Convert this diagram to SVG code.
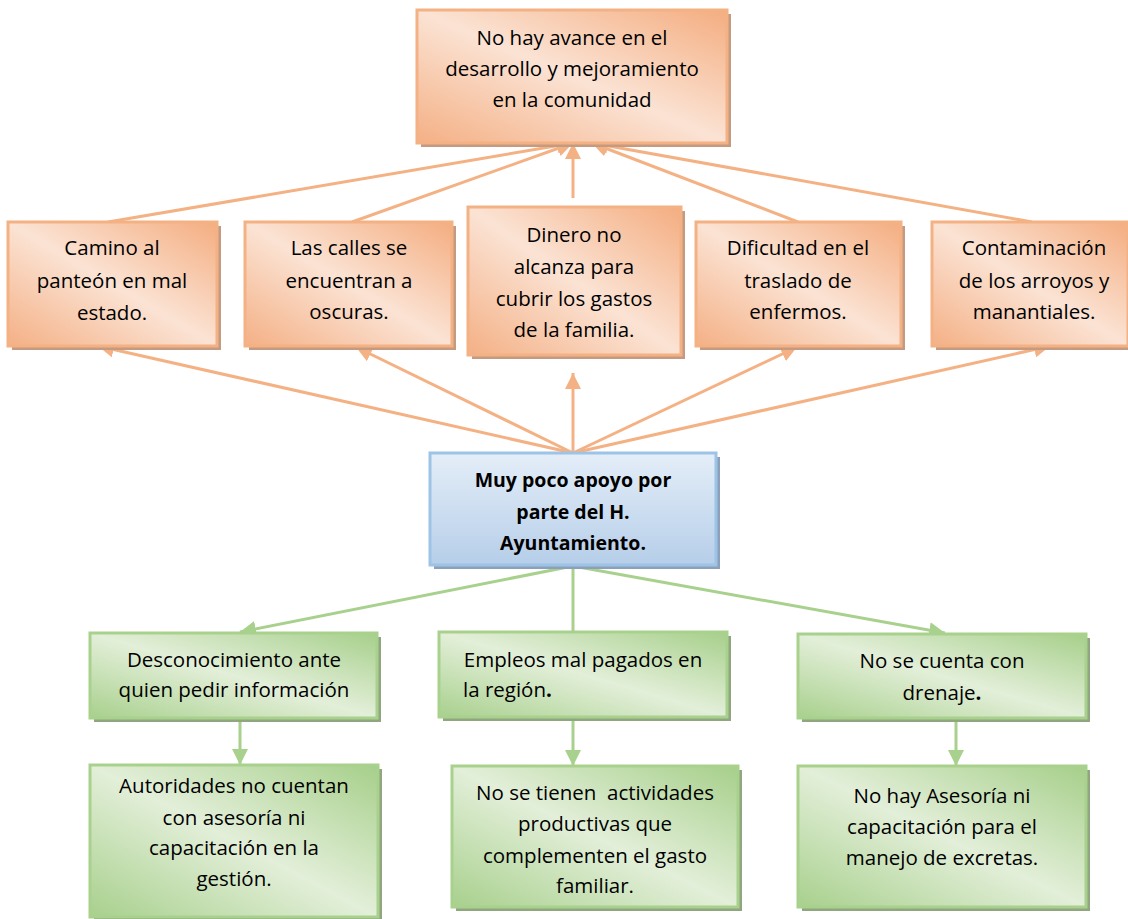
<svg xmlns="http://www.w3.org/2000/svg" width="1128" height="919" viewBox="0 0 1128 919">
<style>
.t{font-family:"Open Sans",Lato,"Liberation Sans",sans-serif;font-size:20.5px;fill:#000;text-anchor:middle}
.b{font-weight:bold}
.cb{font-size:19.5px}
.oc{stroke:#f4b183;stroke-width:3;fill:none}
.gc{stroke:#a9d18e;stroke-width:3;fill:none}
.os{fill:#c49a80}
.gs{fill:#8fa67f}
.bs{fill:#8da0bb}
.ob{fill:url(#og);stroke:#f4b183;stroke-width:3}
.gb{fill:url(#gg);stroke:#a9d18e;stroke-width:3}
.bb{fill:url(#bg);stroke:#9dc3e6;stroke-width:3}
</style>
<defs>
<linearGradient id="og" x1="1" y1="0" x2="0" y2="1">
<stop offset="0" stop-color="#f4ad80"/>
<stop offset="0.5" stop-color="#fbe3d4"/>
<stop offset="1" stop-color="#f4b085"/>
</linearGradient>
<linearGradient id="gg" x1="1" y1="0" x2="0" y2="1">
<stop offset="0" stop-color="#a6cf8a"/>
<stop offset="0.5" stop-color="#e3efd9"/>
<stop offset="1" stop-color="#a8d08d"/>
</linearGradient>
<linearGradient id="bg" x1="0" y1="0" x2="0" y2="1">
<stop offset="0" stop-color="#e4eef8"/>
<stop offset="1" stop-color="#b6cee9"/>
</linearGradient>
<marker id="ao" viewBox="0 0 10 10" refX="10" refY="5" markerWidth="16" markerHeight="16" markerUnits="userSpaceOnUse" orient="auto">
<path d="M0,0 L10,5 L0,10 z" fill="#f4b183"/>
</marker>
<marker id="ag" viewBox="0 0 10 10" refX="10" refY="5" markerWidth="16" markerHeight="16" markerUnits="userSpaceOnUse" orient="auto">
<path d="M0,0 L10,5 L0,10 z" fill="#a9d18e"/>
</marker>
</defs>

<g id="connectors">
<line class="oc" x1="108" y1="222" x2="573" y2="143" marker-end="url(#ao)"/>
<line class="oc" x1="352" y1="222" x2="573" y2="143" marker-end="url(#ao)"/>
<line class="oc" x1="573" y1="198" x2="573" y2="143" marker-end="url(#ao)"/>
<line class="oc" x1="798" y1="222" x2="592" y2="143" marker-end="url(#ao)"/>
<line class="oc" x1="1032" y1="222" x2="592" y2="143" marker-end="url(#ao)"/>
<line class="oc" x1="573" y1="453" x2="98" y2="346" marker-end="url(#ao)"/>
<line class="oc" x1="573" y1="453" x2="356" y2="347" marker-end="url(#ao)"/>
<line class="oc" x1="573" y1="453" x2="573" y2="373" marker-end="url(#ao)"/>
<line class="oc" x1="573" y1="453" x2="797" y2="347" marker-end="url(#ao)"/>
<line class="oc" x1="573" y1="453" x2="1050" y2="346" marker-end="url(#ao)"/>
<line class="gc" x1="573" y1="566" x2="240" y2="632" marker-end="url(#ag)"/>
<line class="gc" x1="573" y1="566" x2="573" y2="649" marker-end="url(#ag)"/>
<line class="gc" x1="573" y1="566" x2="945" y2="633" marker-end="url(#ag)"/>
<line class="gc" x1="240" y1="718" x2="240" y2="765" marker-end="url(#ag)"/>
<line class="gc" x1="573" y1="718" x2="573" y2="766" marker-end="url(#ag)"/>
<line class="gc" x1="956" y1="718" x2="956" y2="766" marker-end="url(#ag)"/>
</g>

<g id="top">
<rect class="os" x="421" y="14" width="310" height="133"/>
<rect class="ob" x="417" y="10" width="310" height="133"/>
<text class="t" x="572" y="45">No hay avance en el</text>
<text class="t" x="572" y="76">desarrollo y mejoramiento</text>
<text class="t" x="572" y="107">en la comunidad</text>
</g>

<g id="camino">
<rect class="os" x="12" y="226" width="209" height="124"/>
<rect class="ob" x="8" y="222" width="209" height="124"/>
<text class="t" x="112" y="255">Camino al</text>
<text class="t" x="112" y="288">panteón en mal</text>
<text class="t" x="112" y="320">estado.</text>
</g>

<g id="calles">
<rect class="os" x="249" y="226" width="207" height="124"/>
<rect class="ob" x="245" y="222" width="207" height="124"/>
<text class="t" x="349" y="255">Las calles se</text>
<text class="t" x="349" y="288">encuentran a</text>
<text class="t" x="349" y="319">oscuras.</text>
</g>

<g id="dinero">
<rect class="os" x="472" y="211" width="213" height="148"/>
<rect class="ob" x="468" y="207" width="213" height="148"/>
<text class="t" x="574" y="242">Dinero no</text>
<text class="t" x="574" y="274">alcanza para</text>
<text class="t" x="574" y="306">cubrir los gastos</text>
<text class="t" x="574" y="337">de la familia.</text>
</g>

<g id="dificultad">
<rect class="os" x="700" y="226" width="205" height="124"/>
<rect class="ob" x="696" y="222" width="205" height="124"/>
<text class="t" x="798" y="255">Dificultad en el</text>
<text class="t" x="798" y="288">traslado de</text>
<text class="t" x="798" y="319">enfermos.</text>
</g>

<g id="contaminacion">
<rect class="os" x="936" y="226" width="196" height="124"/>
<rect class="ob" x="932" y="222" width="196" height="124"/>
<text class="t" x="1034" y="255">Contaminación</text>
<text class="t" x="1034" y="288">de los arroyos y</text>
<text class="t" x="1034" y="319">manantiales.</text>
</g>

<g id="center">
<rect class="bs" x="434" y="457" width="286" height="112"/>
<rect class="bb" x="430" y="453" width="286" height="112"/>
<text class="t b cb" x="573" y="487">Muy poco apoyo por</text>
<text class="t b cb" x="573" y="519">parte del H.</text>
<text class="t b cb" x="573" y="550">Ayuntamiento.</text>
</g>

<g id="desconocimiento">
<rect class="gs" x="94" y="637" width="287" height="85"/>
<rect class="gb" x="90" y="633" width="287" height="85"/>
<text class="t" x="234" y="667">Desconocimiento ante</text>
<text class="t" x="234" y="697">quien pedir información</text>
</g>

<g id="empleos">
<rect class="gs" x="443" y="636" width="288" height="85"/>
<rect class="gb" x="439" y="632" width="288" height="85"/>
<text class="t" x="583" y="667">Empleos mal pagados en</text>
<text class="t" x="463" y="697" style="text-anchor:start">la región<tspan class="b">.</tspan></text>
</g>

<g id="drenaje">
<rect class="gs" x="802" y="638" width="288" height="84"/>
<rect class="gb" x="798" y="634" width="288" height="84"/>
<text class="t" x="942" y="668">No se cuenta con</text>
<text class="t" x="942" y="700">drenaje<tspan class="b">.</tspan></text>
</g>

<g id="autoridades">
<rect class="gs" x="94" y="769" width="288" height="152"/>
<rect class="gb" x="90" y="765" width="288" height="152"/>
<text class="t" x="234" y="793">Autoridades no cuentan</text>
<text class="t" x="234" y="825">con asesoría ni</text>
<text class="t" x="234" y="855">capacitación en la</text>
<text class="t" x="234" y="886">gestión.</text>
</g>

<g id="actividades">
<rect class="gs" x="456" y="770" width="286" height="141"/>
<rect class="gb" x="452" y="766" width="286" height="141"/>
<text class="t" x="595" y="800" style="white-space:pre">No se tienen  actividades</text>
<text class="t" x="595" y="831">productivas que</text>
<text class="t" x="595" y="863">complementen el gasto</text>
<text class="t" x="595" y="893">familiar.</text>
</g>

<g id="asesoria">
<rect class="gs" x="802" y="770" width="288" height="141"/>
<rect class="gb" x="798" y="766" width="288" height="141"/>
<text class="t" x="942" y="803">No hay Asesoría ni</text>
<text class="t" x="942" y="834">capacitación para el</text>
<text class="t" x="942" y="865">manejo de excretas.</text>
</g>
</svg>
